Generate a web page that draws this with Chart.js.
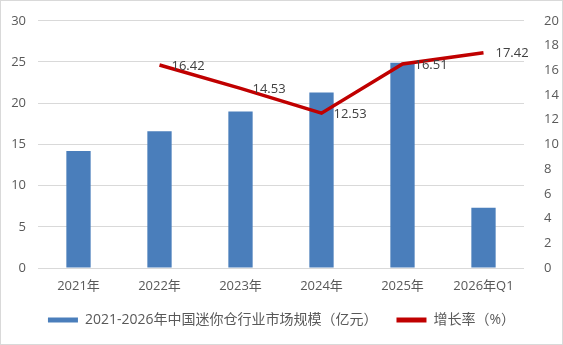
<!DOCTYPE html>
<html>
<head>
<meta charset="utf-8">
<script src="https://cdn.jsdelivr.net/npm/chart.js@4/dist/chart.umd.min.js"></script>
<style>
  html, body { margin: 0; padding: 0; background: #fff; }
  #wrap { position: relative; width: 563px; height: 345px; box-sizing: border-box; border: 1px solid #d9d9d9; }
</style>
</head>
<body>
<div id="wrap"><canvas id="c" width="561" height="343"></canvas></div>
<script>
// categories and values
const years = ['2021年', '2022年', '2023年', '2024年', '2025年', '2026年Q1'];
const marketSize = [14.2, 16.6, 19.0, 21.3, 24.9, 7.3];
const growthRate = [null, 16.42, 14.53, 12.53, 16.51, 17.42];
const leftTicks = [0, 5, 10, 15, 20, 25, 30];
const rightTicks = [0, 2, 4, 6, 8, 10, 12, 14, 16, 18, 20];

const FONT = "'Open Sans', 'Noto Sans CJK SC', sans-serif";
const TEXT = '#595959';

// point labels next to the growth line
const lineLabels = {
    id: 'lineLabels',
    afterDatasetsDraw(chart) {
        const ctx = chart.ctx;
        const meta = chart.getDatasetMeta(1);
        ctx.save();
        ctx.font = '13px ' + FONT;
        ctx.fillStyle = '#404040';
        ctx.textAlign = 'left';
        ctx.textBaseline = 'middle';
        meta.data.forEach((pt, i) => {
            const v = growthRate[i];
            if (v === null) return;
            ctx.fillText(v.toFixed(2), pt.x + 12, pt.y + 1);
        });
        ctx.restore();
    }
};

const ctx = document.getElementById('c').getContext('2d');
new Chart(ctx, {
    data: {
        labels: years,
        datasets: [
            {
                type: 'bar',
                label: '2021-2026年中国迷你仓行业市场规模（亿元）',
                data: marketSize,
                backgroundColor: '#4a7ebb',
                barPercentage: 0.6,
                categoryPercentage: 0.5,
                yAxisID: 'y',
                order: 2
            },
            {
                type: 'line',
                label: '增长率（%）',
                data: growthRate,
                borderColor: '#c00000',
                backgroundColor: '#c00000',
                borderWidth: 3.5,
                pointRadius: 0,
                tension: 0,
                yAxisID: 'y1',
                order: 1
            }
        ]
    },
    options: {
        responsive: false,
        animation: false,
        layout: { padding: { left: 0, right: 0, top: 14, bottom: 7 } },
        plugins: {
            tooltip: { enabled: false },
            legend: {
                position: 'bottom',
                labels: {
                    font: { size: 14, family: FONT },
                    color: TEXT,
                    boxWidth: 30,
                    boxHeight: 5,
                    padding: 19,
                    generateLabels(chart) {
                        return chart.data.datasets.map((ds, i) => ({
                            text: ds.label,
                            fillStyle: ds.type === 'bar' ? ds.backgroundColor : ds.borderColor,
                            strokeStyle: ds.type === 'bar' ? ds.backgroundColor : ds.borderColor,
                            lineWidth: 0,
                            fontColor: TEXT,
                            datasetIndex: i
                        }));
                    }
                }
            }
        },
        scales: {
            x: {
                grid: { display: false },
                border: { display: false },
                ticks: { color: TEXT, font: { size: 13, family: FONT }, padding: 2, maxRotation: 0 },
                afterFit(s) { s.height = 26; }
            },
            y: {
                position: 'left',
                min: 0,
                max: 30,
                afterBuildTicks(s) { s.ticks = leftTicks.map(v => ({ value: v })); },
                grid: { color: '#d9d9d9', lineWidth: 1, drawTicks: false },
                border: { display: false },
                ticks: { color: TEXT, font: { size: 13, family: FONT }, padding: 12 },
                afterFit(s) { s.width = 37; }
            },
            y1: {
                position: 'right',
                min: 0,
                max: 20,
                afterBuildTicks(s) { s.ticks = rightTicks.map(v => ({ value: v })); },
                grid: { display: false },
                border: { display: false },
                ticks: { color: TEXT, font: { size: 13, family: FONT }, padding: 12 },
                afterFit(s) { s.width = 38; }
            }
        }
    },
    plugins: [lineLabels]
});
</script>
</body>
</html>
